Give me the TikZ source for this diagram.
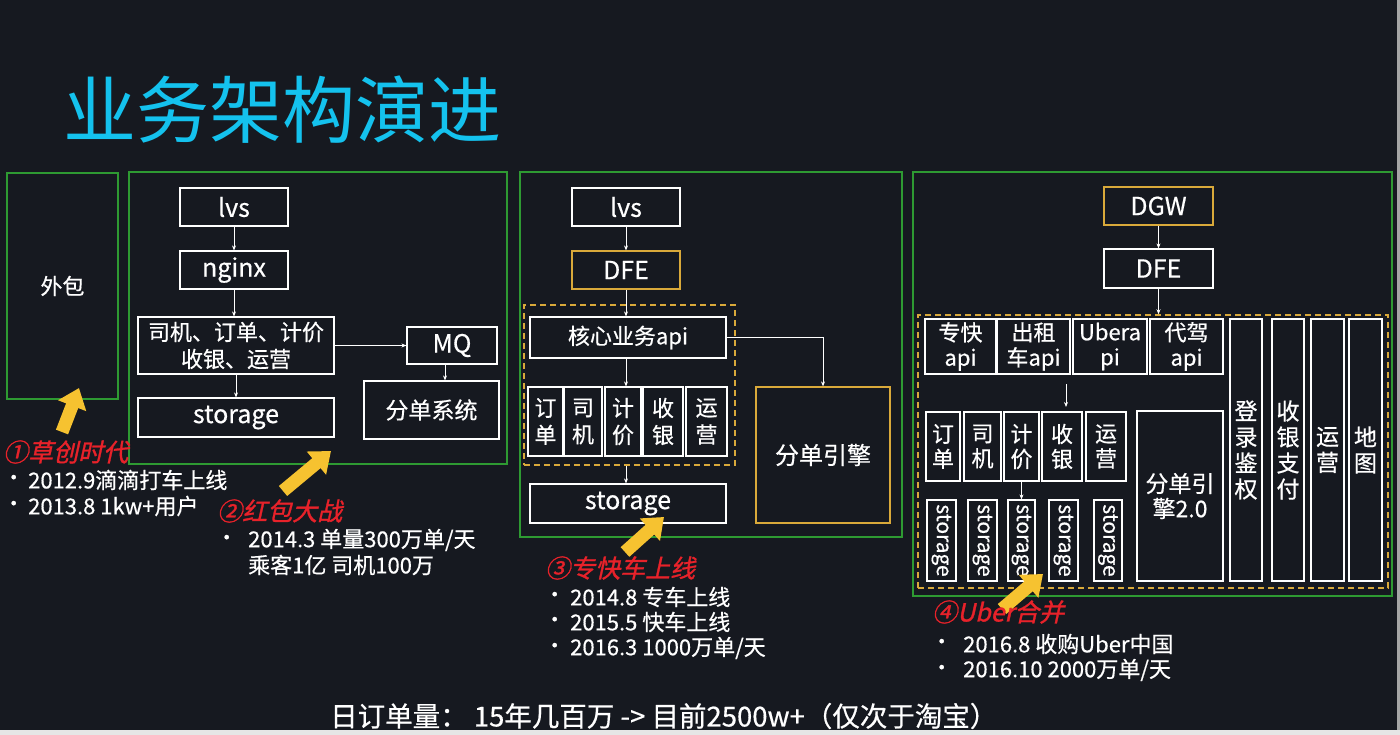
\documentclass[tikz,border=0pt]{standalone}
\usepackage{fontspec}
\setmainfont{Noto Sans CJK SC}[FakeBold=0.5]
\newfontfamily\ttlfont{Noto Sans CJK SC}
\newfontfamily\lblfont{Noto Sans CJK SC}[FakeSlant=0.22,FakeBold=1.2]
\usetikzlibrary{arrows.meta}
\definecolor{bg}{HTML}{161920}
\definecolor{grn}{HTML}{2E9A32}
\definecolor{gold}{HTML}{D9A93A}
\definecolor{ttl}{HTML}{14C2EE}
\definecolor{ylw}{HTML}{F6C230}
\definecolor{lred}{HTML}{E8222A}
\definecolor{edge}{HTML}{E6E6E6}
\tikzset{
  box/.style={draw=white, line width=1.2pt, inner sep=0pt, text=white, align=center, font=\fontsize{22}{27}\selectfont},
  lbox/.style={box, font=\fontsize{25}{28}\selectfont},
  goldbox/.style={box, draw=gold},
  grp/.style={draw=grn, line width=1.2pt, inner sep=0pt},
  dgrp/.style={draw=gold, line width=1.5pt, dash pattern=on 6pt off 4pt, inner sep=0pt},
  arr/.style={draw=white, line width=0.8pt, -{Stealth[length=5pt,width=4pt]}},
  yarr/.style={draw=ylw, line width=13pt, -{Triangle[length=19pt,width=29pt]}},
  lbl/.style={anchor=west, inner sep=0pt, text=lred, font=\lblfont\fontsize{25}{28}\selectfont},
  bul/.style={anchor=west, inner sep=0pt, text=white, font=\fontsize{21}{26}\selectfont},
  txt/.style={anchor=west, inner sep=0pt, text=white, font=\fontsize{22}{26}\selectfont, align=left},
}
\begin{document}
\begin{tikzpicture}[x=1pt,y=-1pt]
\fill[bg] (0,0) rectangle (1400,735);
\useasboundingbox (0,0) rectangle (1400,735);
\fill[edge] (0,730) rectangle (1400,735);
\fill[gray!70] (1397,0) rectangle (1400,730);

% title
\node[anchor=west, inner sep=0pt, text=ttl, font=\ttlfont\fontsize{73}{80}\selectfont] (title) at (63,110) {业务架构演进};

% ---------- panel 1
\node[grp, text=white, font=\fontsize{22}{26}\selectfont, minimum width=111pt, minimum height=226pt] (p1) at (62.5,286) {外包};

% ---------- panel 2
\node[grp, minimum width=378pt, minimum height=292pt] (p2) at (318,318) {};
\node[lbox, minimum width=108pt, minimum height=38pt] (lvs2) at (234,207) {lvs};
\node[lbox, minimum width=108pt, minimum height=38pt] (nginx) at (234,270) {nginx};
\node[box, minimum width=196pt, minimum height=57pt] (svc2) at (236,345.5) {司机、订单、计价\\收银、运营};
\node[lbox, minimum width=196pt, minimum height=39pt] (sto2) at (236,417.5) {storage};
\node[lbox, minimum width=90pt, minimum height=37pt] (mq) at (452,345.5) {MQ};
\node[box, font=\fontsize{23}{27}\selectfont, minimum width=135pt, minimum height=58pt] (fd) at (431.5,410) {分单系统};
\draw[arr] (lvs2.south) -- (nginx.north);
\draw[arr] (nginx.south) -- (nginx.south |- svc2.north);
\draw[arr] (svc2.south) -- (sto2.north);
\draw[arr] (svc2.east) -- (mq.west);
\draw[arr] ([xshift=-7pt]mq.south) -- ([xshift=-7pt]mq.south |- fd.north);

% ---------- panel 3
\node[grp, minimum width=382pt, minimum height=365pt] (p3) at (711,354.5) {};
\node[lbox, minimum width=108pt, minimum height=38pt] (lvs3) at (626,207) {lvs};
\node[lbox, draw=gold, minimum width=108pt, minimum height=38pt] (dfe3) at (626,270) {DFE};
\node[dgrp, minimum width=211pt, minimum height=160pt] (dash3) at (629.5,385) {};
\node[box, minimum width=196pt, minimum height=41pt] (core) at (628,337.5) {核心业务api};
\node[box, minimum width=35pt, minimum height=69pt] (c1) at (545.5,421.5) {订\\单};
\node[box, minimum width=38pt, minimum height=69pt] (c2) at (583,421.5) {司\\机};
\node[box, minimum width=36pt, minimum height=69pt] (c3) at (623,421.5) {计\\价};
\node[box, minimum width=40pt, minimum height=69pt] (c4) at (663,421.5) {收\\银};
\node[box, minimum width=41pt, minimum height=69pt] (c5) at (706.5,421.5) {运\\营};
\node[lbox, minimum width=196pt, minimum height=39pt] (sto3) at (628,503.5) {storage};
\node[box, draw=gold, font=\fontsize{24}{28}\selectfont, minimum width=134pt, minimum height=136pt] (eng) at (823,455) {分单引擎};
\draw[arr] (lvs3.south) -- (dfe3.north);
\draw[arr] (dfe3.south) -- (dfe3.south |- core.north);
\draw[arr] (core.south -| dfe3.south) -- (dfe3.south |- c3.north);
\draw[arr] (dfe3.south |- dash3.south) -- (dfe3.south |- sto3.north);
\draw[arr] (core.east) -| (eng.north);

% ---------- panel 4
\node[grp, minimum width=479pt, minimum height=424pt] (p4) at (1152.5,384) {};
\node[lbox, draw=gold, minimum width=109pt, minimum height=38pt] (dgw) at (1158.5,206) {DGW};
\node[lbox, minimum width=109pt, minimum height=39pt] (dfe4) at (1158.5,268.5) {DFE};
\node[dgrp, minimum width=470pt, minimum height=273pt] (dash4) at (1153,451.5) {};
\node[box, font=\fontsize{22}{25}\selectfont, minimum width=71pt, minimum height=55pt] (a1) at (960.5,346.5) {专快\\api};
\node[box, font=\fontsize{22}{25}\selectfont, minimum width=73pt, minimum height=55pt] (a2) at (1033.5,346.5) {出租\\车api};
\node[box, font=\fontsize{22}{25}\selectfont, minimum width=74pt, minimum height=55pt] (a3) at (1110,346.5) {Ubera\\pi};
\node[box, font=\fontsize{22}{25}\selectfont, minimum width=73pt, minimum height=55pt] (a4) at (1186.5,346.5) {代驾\\api};
\node[box, font=\fontsize{23}{26}\selectfont, minimum width=32pt, minimum height=262pt] (t1) at (1246,450) {登\\录\\鉴\\权};
\node[box, font=\fontsize{23}{26}\selectfont, minimum width=32pt, minimum height=262pt] (t2) at (1288,450) {收\\银\\支\\付};
\node[box, font=\fontsize{23}{26}\selectfont, minimum width=33pt, minimum height=262pt] (t3) at (1327.5,450) {运\\营};
\node[box, font=\fontsize{23}{26}\selectfont, minimum width=33pt, minimum height=262pt] (t4) at (1365.5,450) {地\\图};
\node[box, font=\fontsize{22}{25}\selectfont, minimum width=34pt, minimum height=69pt] (m1) at (943,446.5) {订\\单};
\node[box, font=\fontsize{22}{25}\selectfont, minimum width=37pt, minimum height=69pt] (m2) at (982.5,446.5) {司\\机};
\node[box, font=\fontsize{22}{25}\selectfont, minimum width=35pt, minimum height=69pt] (m3) at (1021.5,446.5) {计\\价};
\node[box, font=\fontsize{22}{25}\selectfont, minimum width=40pt, minimum height=69pt] (m4) at (1062,446.5) {收\\银};
\node[box, font=\fontsize{22}{25}\selectfont, minimum width=40pt, minimum height=69pt] (m5) at (1106,446.5) {运\\营};
\node[box, font=\fontsize{23}{25}\selectfont, minimum width=86pt, minimum height=170pt] (eng2) at (1180,496) {分单引\\擎2.0};
\node[box, font=\fontsize{21}{24}\selectfont, rotate=-90, minimum width=81pt, minimum height=29pt] (s1) at (941.5,540.5) {storage};
\node[box, font=\fontsize{21}{24}\selectfont, rotate=-90, minimum width=81pt, minimum height=29pt] (s2) at (982.5,540.5) {storage};
\node[box, font=\fontsize{21}{24}\selectfont, rotate=-90, minimum width=81pt, minimum height=27pt] (s3) at (1021.5,540.5) {storage};
\node[box, font=\fontsize{21}{24}\selectfont, rotate=-90, minimum width=81pt, minimum height=29pt] (s4) at (1063.5,540.5) {storage};
\node[box, font=\fontsize{21}{24}\selectfont, rotate=-90, minimum width=81pt, minimum height=28pt] (s5) at (1108,540.5) {storage};
\coordinate (fa1) at (1066,384);
\coordinate (fa2) at (1066,407);
\draw[arr] (dgw.south) -- (dfe4.north);
\draw[arr] (dfe4.south) -- (dfe4.south |- dash4.north);
\draw[arr] (fa1) -- (fa2);
\draw[arr] (m3.south) -- (m3.south |- s3.west);

% ---------- yellow arrows
\coordinate (y1a) at (62,432); \coordinate (y1b) at (79,388);
\coordinate (y2a) at (283,491); \coordinate (y2b) at (331,451);
\coordinate (y3a) at (625,552); \coordinate (y3b) at (664,517);
\coordinate (y4a) at (1002,609); \coordinate (y4b) at (1043,574);
\draw[yarr] (y1a) -- (y1b);
\draw[yarr] (y2a) -- (y2b);
\draw[yarr] (y3a) -- (y3b);
\draw[yarr] (y4a) -- (y4b);

% ---------- red labels
\node[lbl] (l1) at (3,452) {①草创时代};
\node[lbl] (l2) at (217,511) {②红包大战};
\node[lbl] (l3) at (545,568) {③专快车上线};
\node[lbl] (l4) at (932,612) {④Uber合并};

% ---------- bullet texts
\node[bul] (b11) at (3,480) {•};
\node[txt] (t11) at (28,480) {2012.9滴滴打车上线};
\node[bul] (b12) at (3,506) {•};
\node[txt] (t12) at (28,506) {2013.8 1kw+用户};

\node[bul] (b21) at (216,540) {•};
\node[txt] (t21) at (248,540) {2014.3 单量300万单/天};
\node[txt] (t22) at (248,565) {乘客1亿 司机100万};

\node[bul] (b31) at (544,597) {•};
\node[txt] (t31) at (570,597) {2014.8 专车上线};
\node[bul] (b32) at (544,622) {•};
\node[txt] (t32) at (570,622) {2015.5 快车上线};
\node[bul] (b33) at (544,648) {•};
\node[txt] (t33) at (570,648) {2016.3 1000万单/天};

\node[bul] (b41) at (931,644) {•};
\node[txt] (t41) at (963,644) {2016.8 收购Uber中国};
\node[bul] (b42) at (931,670) {•};
\node[txt] (t42) at (963,670) {2016.10 2000万单/天};

% ---------- bottom line
\node[anchor=west, inner sep=0pt, text=white, font=\fontsize{27.5}{30}\selectfont] (foot) at (330,716) {日订单量： 15年几百万 -> 目前2500w+（仅次于淘宝）};
\end{tikzpicture}
\end{document}
